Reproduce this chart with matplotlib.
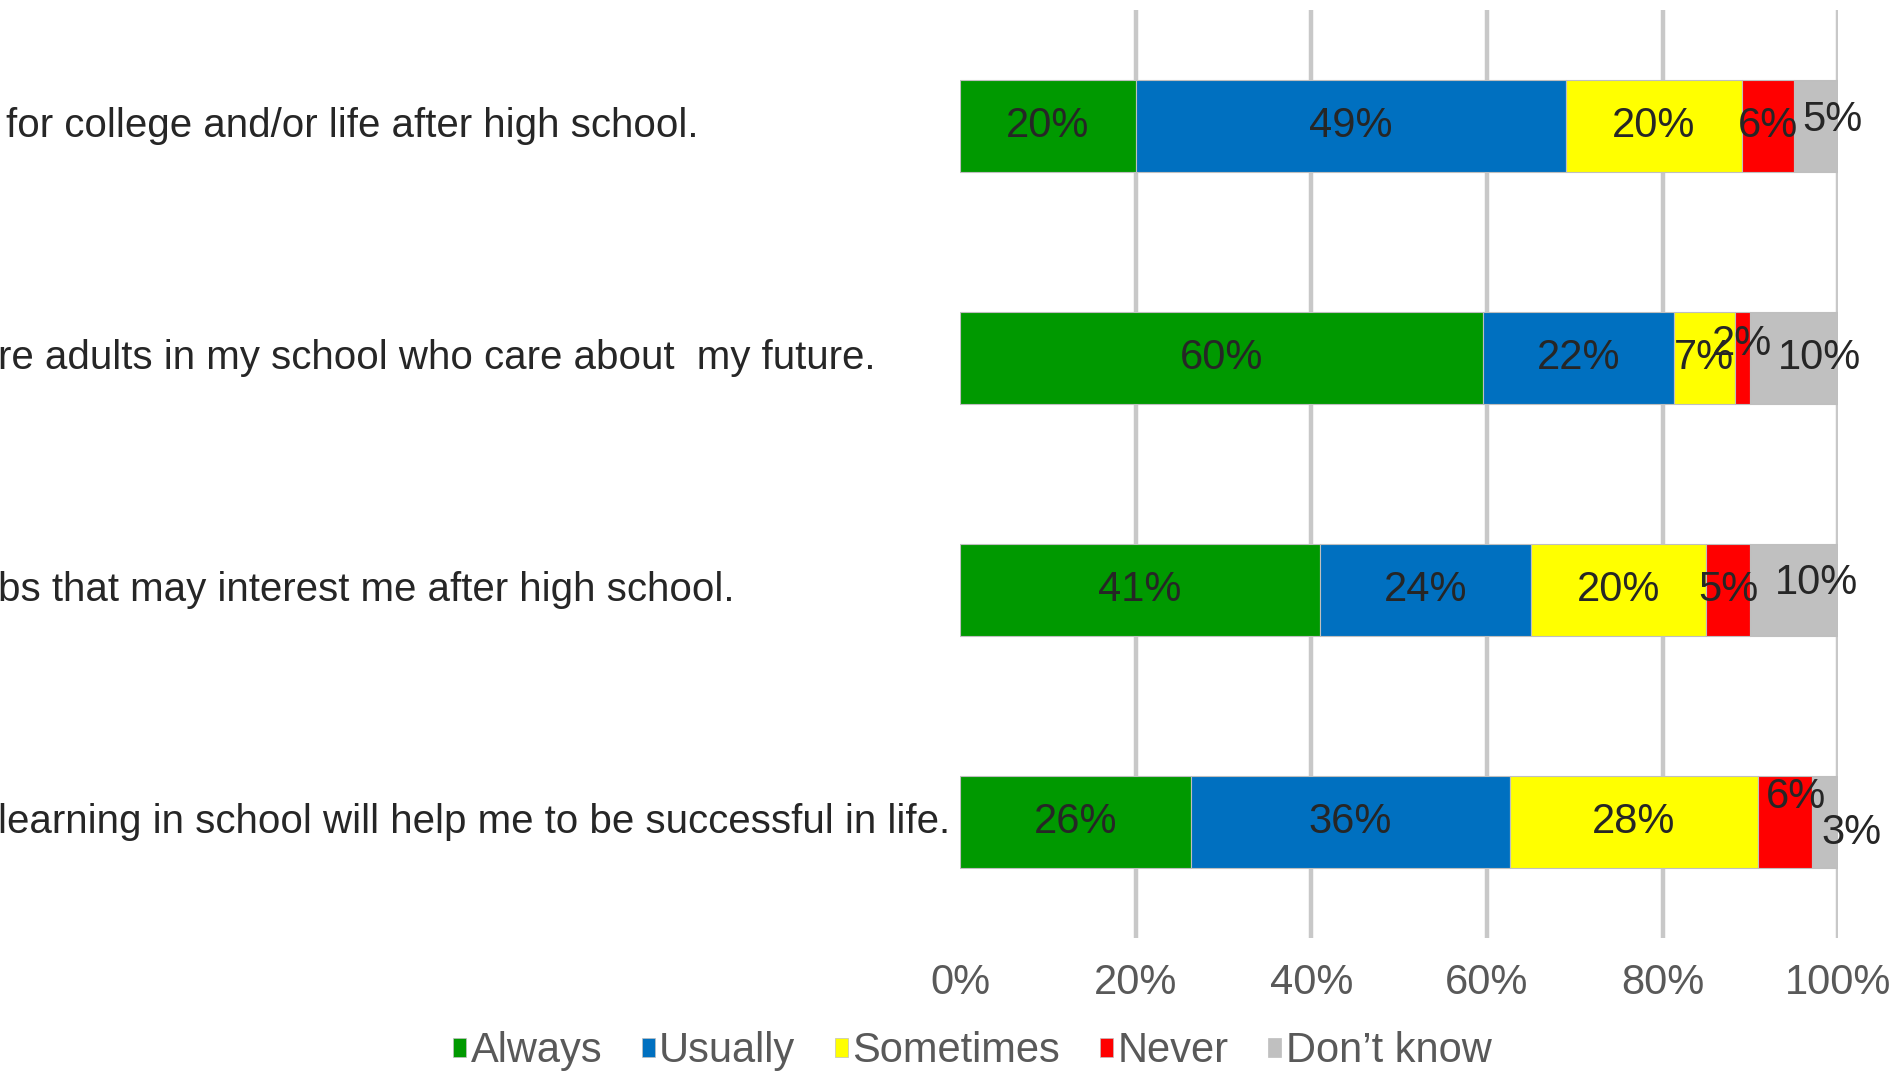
#!/usr/bin/env python3
# Stacked horizontal bar chart of survey answers (clipped screenshot recreation)

import matplotlib
matplotlib.use("Agg")
import matplotlib.pyplot as plt
from matplotlib.patches import Patch
from matplotlib.transforms import blended_transform_factory
from matplotlib import font_manager

# visible parts of the statement labels (top to bottom)
statements = [
    "for college and/or life after high school.",
    "re adults in my school who care about  my future.",
    "bs that may interest me after high school.",
    "learning in school will help me to be successful in life.",
]
answers = ["Always", "Usually", "Sometimes", "Never", "Don\u2019t know"]

always = [20.0, 59.6, 41.0, 26.3]
usually = [49.0, 21.7, 24.0, 36.3]
sometimes = [20.0, 6.9, 20.0, 28.3]
never = [6.0, 1.8, 5.0, 6.1]
dont_know = [5.0, 10.0, 10.0, 3.0]

xticks = [0, 20, 40, 60, 80, 100]

colors = ["#009900", "#0070C0", "#FFFF00", "#FF0000", "#C0C0C0"]

# label nudges (points) where Excel moved labels to avoid overlaps: (row, series) -> (dx, dy)
nudges = {
    (0, 4): (12, 4),
    (1, 3): (0, 10),
    (1, 4): (18, 0),
    (2, 4): (16, 5),
    (3, 3): (8, 18),
    (3, 4): (19, -8),
}


def pick_font():
    for name in ["Liberation Sans Narrow", "Liberation Sans"]:
        try:
            font_manager.findfont(name, fallback_to_default=False)
            return name
        except Exception:
            pass
    return "DejaVu Sans"


font = pick_font()
narrow = "Narrow" in font
fs = 31 if narrow else 30        # bar labels, ticks, legend
fs_cat = 31 if narrow else 29    # statement labels
plt.rcParams["font.family"] = [font, "DejaVu Sans"]

fig = plt.figure(figsize=(18.95, 10.75), dpi=100)
ax = fig.add_axes([0.5066, 0.1274, 0.4634, 0.8633])

series = [always, usually, sometimes, never, dont_know]
ypos = list(range(len(statements)))
left = [0.0] * len(statements)
for s, (vals, col) in enumerate(zip(series, colors)):
    ax.barh(ypos, vals, left=left, height=0.4, color=col,
            edgecolor="#BFBFBF", linewidth=0.8, zorder=3)
    for r, (v, l) in enumerate(zip(vals, left)):
        dx, dy = nudges.get((r, s), (0, 0))
        ax.annotate(f"{round(v)}%", xy=(l + v / 2, r), xytext=(dx, dy),
                    textcoords="offset points", ha="center", va="center",
                    fontsize=fs, color="#262626", zorder=4)
    left = [a + b for a, b in zip(left, vals)]

ax.set_xlim(0, 100)
ax.set_ylim(len(statements) - 0.5, -0.5)
ax.set_xticks(xticks)
ax.set_xticklabels([f"{t}%" for t in xticks], fontsize=fs, color="#595959")
ax.set_yticks([])
ax.tick_params(axis="x", length=0, pad=18)
ax.grid(axis="x", color="#C8C8C8", linewidth=3.2, zorder=0)
ax.xaxis.get_gridlines()[0].set_visible(False)  # no line at 0%
for sp in ax.spines.values():
    sp.set_visible(False)

# statement labels, starting at the clipped left edge of the picture
trans = blended_transform_factory(fig.transFigure, ax.transData)
for r, txt in enumerate(statements):
    fig.text(0.003 if r == 0 else -0.001, r, txt, transform=trans, ha="left",
             va="center", fontsize=fs_cat, color="#262626")

handles = [Patch(facecolor=c, edgecolor="#BFBFBF", linewidth=0.5) for c in colors]
fig.legend(handles, answers, loc="center", bbox_to_anchor=(0.513, 0.022),
           ncol=5, frameon=False, fontsize=fs, labelcolor="#595959",
           handlelength=0.32, handleheight=0.32, handletextpad=0.1,
           columnspacing=0.95, borderpad=0)

fig.savefig("out.png", dpi=100)
plt.close(fig)
